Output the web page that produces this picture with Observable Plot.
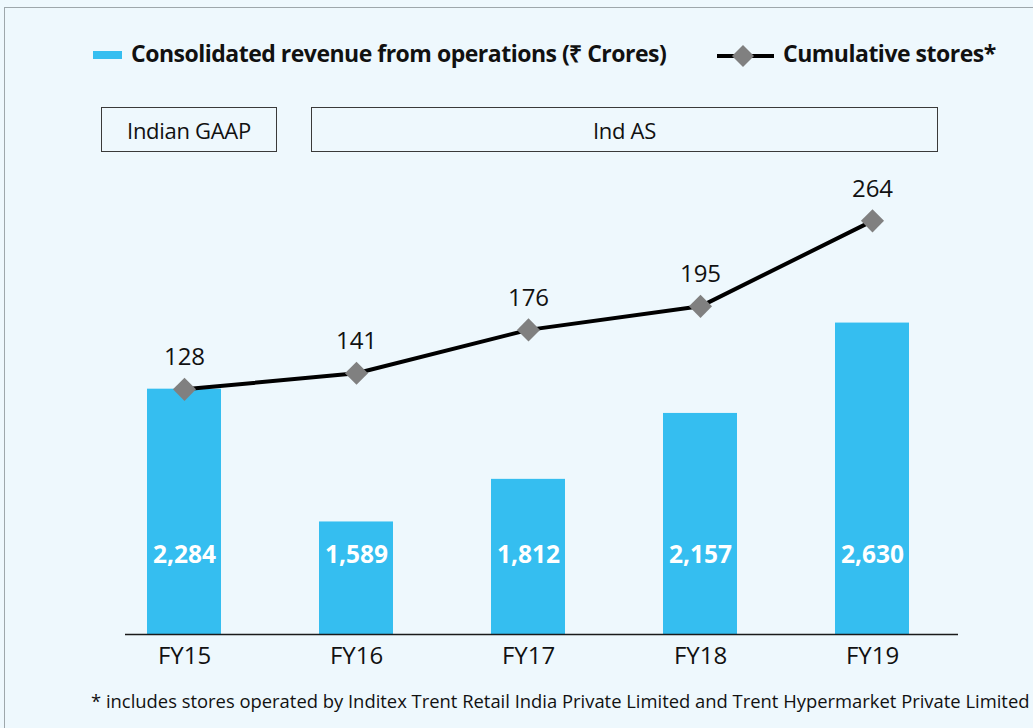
<!DOCTYPE html>
<html>
<head>
<meta charset="utf-8">
<script src="https://cdn.jsdelivr.net/npm/d3@7"></script>
<script src="https://cdn.jsdelivr.net/npm/@observablehq/plot@0.6"></script>
<style>
  html, body { margin: 0; padding: 0; }
  body { width: 1033px; height: 728px; overflow: hidden; background: #eef8fd; position: relative; font-family: "Open Sans", sans-serif; color: #111; }
  #frame { position: absolute; left: 4px; top: 7px; width: 1100px; height: 800px; border: 1px solid #9ea7ab; }
  .abs { position: absolute; white-space: nowrap; }
  .legtxt { font-family: "Open Sans", sans-serif; font-weight: 700; font-size: 23px; line-height: 24px; letter-spacing: -0.5px; }
  .box { position: absolute; box-sizing: border-box; border: 1.5px solid #3a3a3a; display: flex; align-items: center; justify-content: center; font-size: 22px; letter-spacing: -0.3px; }
  #chart { position: absolute; left: 0; top: 165px; }
  #note { font-size: 18.4px; }
</style>
</head>
<body>
<div id="frame"></div>
<div class="abs" style="left:93px;top:51px;width:29px;height:8px;background:#35bef0"></div>
<div class="abs legtxt" style="left:131px;top:41px">Consolidated revenue from operations (₹ Crores)</div>
<svg class="abs" style="left:716px;top:42px" width="60" height="28">
  <line x1="1" y1="14" x2="58" y2="14" stroke="#000" stroke-width="4"/>
  <path d="M27,3 L38,14 L27,25 L16,14 Z" fill="#808080"/>
</svg>
<div class="abs legtxt" style="left:783px;top:41px">Cumulative stores*</div>
<div class="box" style="left:101px;top:107px;width:176px;height:45px">Indian GAAP</div>
<div class="box" style="left:311px;top:107px;width:627px;height:45px">Ind AS</div>
<div id="chart"></div>
<div class="abs" id="note" style="left:91px;top:688px">* includes stores operated by Inditex Trent Retail India Private Limited and Trent Hypermarket Private Limited</div>
<script>
const years = ["FY15", "FY16", "FY17", "FY18", "FY19"];
const revenue = [2284, 1589, 1812, 2157, 2630];
const stores = [128, 141, 176, 195, 264];

const yMin = 1000;
// secondary axis: stores mapped onto revenue scale
const storeToRev = d3.scaleLinear().domain([128, 264]).range([2283, 3165]);

const data = years.map((y, i) => ({year: y, rev: revenue[i], stores: stores[i], sy: storeToRev(stores[i])}));

const chart = Plot.plot({
  width: 1033,
  height: 509,
  marginLeft: 97,
  marginRight: 75,
  marginTop: 20,
  marginBottom: 40,
  style: {background: "transparent", fontFamily: "'Open Sans', sans-serif", fontSize: "24px", color: "#111"},
  x: {domain: years, paddingInner: 0.57, paddingOuter: 0.285, tickSize: 0, tickPadding: 12, label: null},
  y: {domain: [yMin, 3350], axis: null},
  marks: [
    Plot.barY(data, {x: "year", y1: yMin, y2: "rev", fill: "#35bef0"}),
    Plot.ruleY([yMin], {stroke: "#1a1a1a", strokeWidth: 1.5, insetLeft: 28}),
    Plot.text(data, {x: "year", y: () => yMin, dy: -79, text: d => d3.format(",")(d.rev), fill: "white", fontWeight: "bold", fontSize: 24.5}),
    Plot.line(data, {x: "year", y: "sy", stroke: "#000", strokeWidth: 4}),
    Plot.dot(data, {x: "year", y: "sy", symbol: "diamond2", r: 10.4, fill: "#808080", stroke: "none"}),
    Plot.text(data, {x: "year", y: "sy", dy: -32, text: "stores", fill: "#111", fontSize: 24})
  ]
});
document.getElementById("chart").appendChild(chart);
</script>
</body>
</html>
